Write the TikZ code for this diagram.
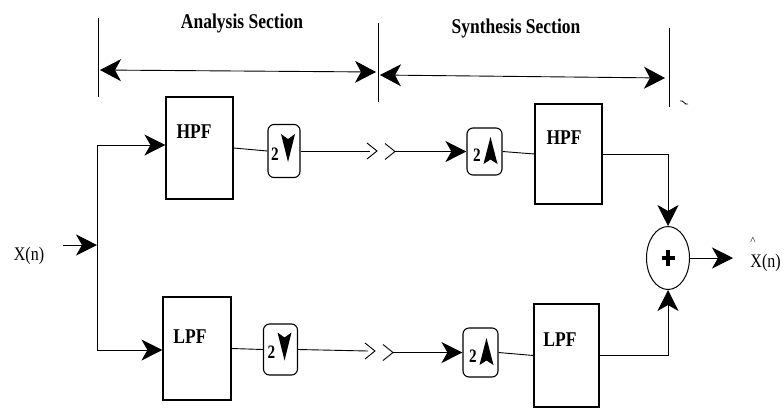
\documentclass[tikz,border=0pt]{standalone}
\usepackage{fontspec}
\usepackage{graphicx}
\setmainfont{Liberation Serif}
\usetikzlibrary{arrows.meta,shapes.geometric}
\newcommand\talltext[1]{\scalebox{1}[1.2]{#1}}
\begin{document}
\begin{tikzpicture}[x=1pt,y=-1pt,
 line width=0.9pt,
 arr/.style={-{Stealth[length=21pt,width=21pt,inset=6pt]}},
 darr/.style={{Stealth[length=21pt,width=22pt,inset=6pt]}-{Stealth[length=21pt,width=22pt,inset=6pt]}},
 fbox/.style={draw,line width=1.1pt,minimum width=67pt,minimum height=102pt,inner sep=0pt},
 rbox/.style={draw,line width=1.1pt,rounded corners=6pt,minimum width=34pt,minimum height=49pt,inner sep=0pt},
 lbl/.style={font=\bfseries\fontsize{17.5}{17.5}\selectfont,inner sep=0pt},
 hdr/.style={font=\bfseries\fontsize{17.5}{17.5}\selectfont,inner sep=0pt},
 sig/.style={font=\fontsize{16}{16}\selectfont,inner sep=0pt},
 two/.style={font=\bfseries\fontsize{19}{19}\selectfont,inner sep=0pt},
]
\useasboundingbox (0,0) rectangle (784,408);

% headers
\node[hdr] (hA) at (242,23) {\talltext{Analysis Section}};
\node[hdr] (hS) at (516,28) {\talltext{Synthesis Section}};

% section limits
\draw (98,18) -- (98,97);
\draw (378,23) -- (378,102);
\draw (669,28) -- (669,107);
\draw[line width=0.8pt] (680,101) .. controls (683,99) and (685,106) .. (688,104);
\coordinate (aL) at (100,70);
\coordinate (aR) at (376,72);
\coordinate (sL) at (380,75);
\coordinate (sR) at (665,78);
\draw[darr] (aL) -- (aR);
\draw[darr] (sL) -- (sR);

% input
\node[sig] (xin) at (29,256) {\talltext{X(n)}};
\coordinate (inS) at (63,245);
\coordinate (split) at (97,245);
\coordinate (top) at (97,145);
\coordinate (bot) at (97,350);
\draw (top) -- (bot);
\draw[arr] (inS) -- (split);

% top row
\node[fbox] (hpfA) at (199.5,148) {};
\node[lbl] (hpfAt) at (194,132) {\talltext{HPF}};
\node[rbox,minimum width=32pt,minimum height=53pt] (downA) at (284,151) {};
\node[two] (downAt) at ([shift={(-9,3)}]downA.center) {\scalebox{0.8}[1]{2}};
\fill ([shift={(4,11)}]downA.center) -- ([shift={(-3,-17)}]downA.center) -- ([shift={(4,-12)}]downA.center) -- ([shift={(11,-17)}]downA.center) -- cycle;
\coordinate (cA1) at (370,151);
\coordinate (cA2) at (395,151.5);
\draw (367,143) -- (377,151) -- (367,159);
\draw (385,143.5) -- (395,151.5) -- (385,159.5);
\node[rbox,minimum width=35pt,minimum height=47pt] (upA) at (484.5,151.5) {};
\node[two] (upAt) at ([shift={(-7.5,4)}]upA.center) {\scalebox{0.8}[1]{2}};
\fill ([shift={(6,-14.5)}]upA.center) -- ([shift={(-1,12.5)}]upA.center) -- ([shift={(6,8)}]upA.center) -- ([shift={(13,12.5)}]upA.center) -- cycle;
\node[fbox,minimum height=100pt] (hpfS) at (568.5,154) {};
\node[lbl] (hpfSt) at (564,138) {\talltext{HPF}};

% bottom row
\node[fbox,minimum width=68pt,minimum height=103pt] (lpfA) at (197,348.5) {};
\node[lbl] (lpfAt) at (190,337) {\talltext{LPF}};
\node[rbox,minimum width=34pt,minimum height=51pt] (downB) at (280.5,349.5) {};
\node[two] (downBt) at ([shift={(-9,3)}]downB.center) {\scalebox{0.8}[1]{2}};
\fill ([shift={(4,11)}]downB.center) -- ([shift={(-3,-17)}]downB.center) -- ([shift={(4,-12)}]downB.center) -- ([shift={(11,-17)}]downB.center) -- cycle;
\coordinate (cB1) at (368,351);
\coordinate (cB2) at (393,352.5);
\draw (365,343) -- (375,351) -- (365,359);
\draw (383,344.5) -- (393,352.5) -- (383,360.5);
\node[rbox,minimum width=35pt,minimum height=49pt] (upB) at (480.5,352.5) {};
\node[two] (upBt) at ([shift={(-7.5,4)}]upB.center) {\scalebox{0.8}[1]{2}};
\fill ([shift={(6,-14.5)}]upB.center) -- ([shift={(-1,12.5)}]upB.center) -- ([shift={(6,8)}]upB.center) -- ([shift={(13,12.5)}]upB.center) -- cycle;
\node[fbox,minimum width=65pt,minimum height=103pt] (lpfS) at (566.5,355.5) {};
\node[lbl] (lpfSt) at (560,340) {\talltext{LPF}};

% summer and output
\node[draw,ellipse,line width=1pt,minimum width=43pt,minimum height=63pt,inner sep=0pt] (sum) at (668,258) {};
\draw[line width=4pt] ([xshift=-6.5pt]sum.center) -- ([xshift=6.5pt]sum.center);
\draw[line width=4pt] ([yshift=-8pt]sum.center) -- ([yshift=8pt]sum.center);
\node[sig,anchor=west] (xout) at (750,263) {\talltext{X(n)}};
\node[sig,font=\fontsize{11}{11}\selectfont] (hat) at (753,241) {\^{}};

% connectors
\draw[arr] (top) -- (top -| hpfA.west);
\draw[arr] (bot) -- (bot -| lpfA.west);
\draw (hpfA.east) -- (downA.west);
\draw (downA.east) -- (cA1);
\draw[arr] (cA2) -- (upA.west);
\draw (upA.east) -- (hpfS.west);
\draw[arr] (hpfS.east) -| (sum.north);
\draw (lpfA.east) -- (downB.west);
\draw (downB.east) -- (cB1);
\draw[arr] (cB2) -- (upB.west);
\draw (upB.east) -- (lpfS.west);
\draw[arr] (lpfS.east) -| (sum.south);
\draw[arr,shorten >=17pt] (sum.east) -- (sum.east -| xout.west);
\end{tikzpicture}
\end{document}
